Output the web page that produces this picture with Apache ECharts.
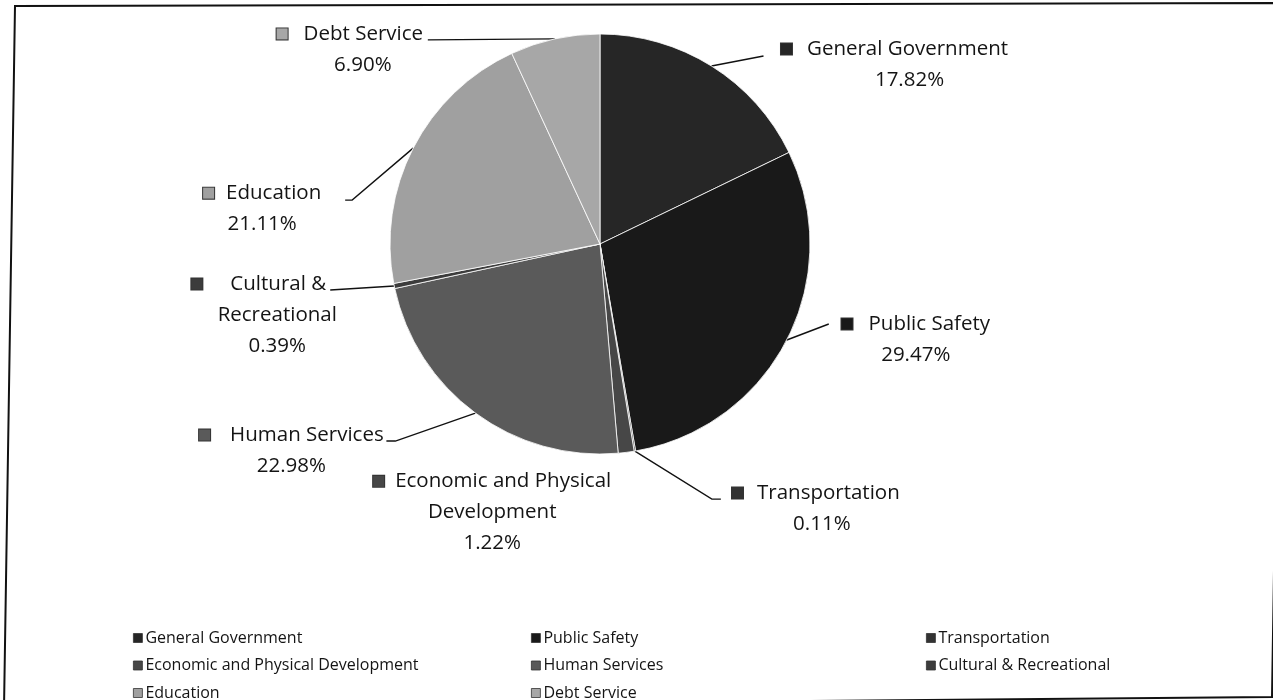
<!DOCTYPE html>
<html>
<head>
<meta charset="utf-8">
<script src="https://cdn.jsdelivr.net/npm/echarts@6/dist/echarts.min.js"></script>
<style>
  html, body { margin: 0; padding: 0; background: #ffffff; }
  #chart { width: 1273px; height: 700px; }
</style>
</head>
<body>
<div id="chart"></div>
<script>
// Spending categories and their share of the total budget (percent)
const categories = [
  'General Government',
  'Public Safety',
  'Transportation',
  'Economic and Physical Development',
  'Human Services',
  'Cultural & Recreational',
  'Education',
  'Debt Service'
];
const shares = [17.82, 29.47, 0.11, 1.22, 22.98, 0.39, 21.11, 6.90];

// How each category name wraps inside its slice label
const labelNameLines = [
  ['General Government'],
  ['Public Safety'],
  ['Transportation'],
  ['Economic and Physical', 'Development'],
  ['Human Services'],
  ['Cultural &', 'Recreational'],
  ['Education'],
  ['Debt Service']
];

// Legend columns (read top to bottom)
const legendColumns = [
  ['General Government', 'Economic and Physical Development', 'Education'],
  ['Public Safety', 'Human Services', 'Debt Service'],
  ['Transportation', 'Cultural & Recreational']
];

// Grey fills, one per slice
const sliceColors = ['#262626', '#191919', '#333333', '#474747', '#5a5a5a', '#3c3c3c', '#a0a0a0', '#a7a7a7'];

// Label placement, as offsets from the point where each slice's mid-angle meets the rim:
// block = centre of the text block / middle of its first line, line = leader-line vertices,
// gap = space between key and name, tail = extra room after the first line.
const labelPlacement = [
  { block: [198, -17], line: [[52, -10]], gap: 15, tail: 30 },
  { block: [129, -16], line: [[42, -16]], gap: 16, tail: 0 },
  { block: [187, 42], line: [[77, 48], [86, 48]], gap: 14, tail: 12 },
  { block: [-134, 29], line: [], gap: 11, tail: 0 },
  { block: [-184, 22], line: [[-80, 28], [-89, 28]], gap: 20, tail: 0 },
  { block: [-117, -2], line: [[-64, 4]], gap: 28, tail: 37 },
  { block: [-151, 45], line: [[-61, 52], [-68, 52]], gap: 12, tail: 0 },
  { block: [-192, -5], line: [[-127, 1]], gap: 16, tail: 26 }
];

const FONT = '"Open Sans", "Noto Sans", sans-serif';
const LABEL_SIZE = 20.5;
const LINE_H = 31;

const rich = {
  t: { fontFamily: FONT, fontSize: LABEL_SIZE, color: '#141414', lineHeight: LINE_H, align: 'center' }
};
categories.forEach(function (c, i) {
  const pl = labelPlacement[i];
  rich['ic' + i] = {
    width: 11, height: 11, backgroundColor: sliceColors[i],
    borderColor: '#333333', borderWidth: 1, lineHeight: LINE_H, align: 'center'
  };
  rich['gp' + i] = { width: pl.gap, lineHeight: LINE_H, align: 'center' };
  rich['tl' + i] = { width: pl.tail, lineHeight: LINE_H, align: 'center' };
});

function labelText(params) {
  const i = params.dataIndex;
  const pl = labelPlacement[i];
  const names = labelNameLines[i];
  const rows = [];
  let first = '{ic' + i + '|}{gp' + i + '|}{t|' + names[0] + '}';
  if (pl.tail > 0) first += '{tl' + i + '|}';
  rows.push(first);
  for (let k = 1; k < names.length; k++) rows.push('{t|' + names[k] + '}');
  rows.push('{t|' + shares[i].toFixed(2) + '%}');
  return rows.join('\n');
}

const pieData = categories.map(function (name, i) {
  return { name: name, value: shares[i], itemStyle: { color: sliceColors[i] } };
});

const legends = legendColumns.map(function (col, c) {
  return {
    orient: 'vertical',
    left: [133, 531, 926][c],
    top: 630,
    height: 90,
    padding: 0,
    itemWidth: 9,
    itemHeight: 9,
    itemGap: 11.5,
    icon: 'rect',
    selectedMode: false,
    data: col,
    itemStyle: { borderColor: '#333333', borderWidth: 0.8 },
    textStyle: { fontFamily: FONT, fontSize: 16, color: '#141414', lineHeight: 16, padding: [0, 0, 0, -2] }
  };
});

const chart = echarts.init(document.getElementById('chart'), null, { renderer: 'canvas' });
chart.setOption({
  backgroundColor: '#ffffff',
  animation: false,
  legend: legends,
  graphic: [{
    type: 'polygon',
    shape: { points: [[15, 6], [1283, 3], [1272, 697], [4, 708]] },
    style: { fill: 'none', stroke: '#111111', lineWidth: 2 },
    silent: true
  }],
  series: [{
    type: 'pie',
    center: [600, 244],
    radius: 210,
    startAngle: 90,
    clockwise: true,
    avoidLabelOverlap: false,
    emphasis: { disabled: true },
    itemStyle: { borderColor: '#ffffff', borderWidth: 0.8 },
    label: {
      show: true,
      position: 'outside',
      formatter: labelText,
      rich: rich,
      distanceToLabelLine: 0
    },
    labelLine: {
      show: true,
      length: 0,
      length2: 0,
      smooth: false,
      lineStyle: { color: '#111111', width: 1.4 }
    },
    labelLayout: function (p) {
      const pts = p.labelLinePoints;
      if (!pts || !pts.length) return {};
      const a = pts[0];
      const pl = labelPlacement[p.dataIndex];
      const line = [a].concat(pl.line.map(function (d) { return [a[0] + d[0], a[1] + d[1]]; }));
      return {
        x: a[0] + pl.block[0],
        y: a[1] + pl.block[1] - LINE_H / 2,
        align: 'center',
        verticalAlign: 'top',
        labelLinePoints: line.length > 1 ? line : [a, a]
      };
    },
    data: pieData
  }]
});
</script>
</body>
</html>
